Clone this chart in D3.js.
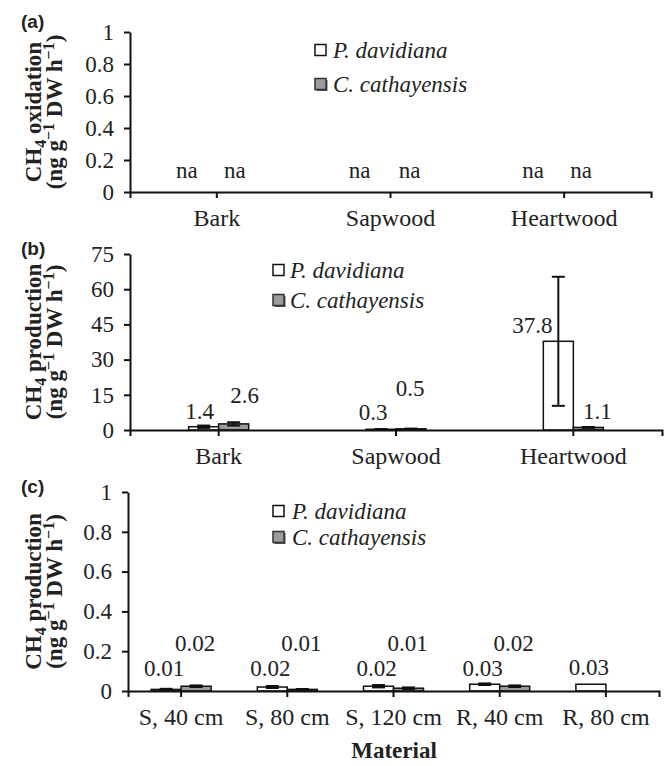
<!DOCTYPE html>
<html>
<head>
<meta charset="utf-8">
<script src="https://cdn.jsdelivr.net/npm/d3@7"></script>
<style>
    body { margin: 0; background: #fff; }
    svg { display: block; }
    .axisG path, .axisG line { stroke: #111; stroke-width: 2; }
    .axisG .tick text { font-family: 'Liberation Serif', serif; font-size: 23px; fill: #222; }
    .xAxisG .tick text { font-size: 24px; }
    .valText { font-family: 'Liberation Serif', serif; font-size: 23px; fill: #222; }
    .legText { font-family: 'Liberation Serif', serif; font-size: 23px; font-style: italic; fill: #222; }
    .titleText { font-family: 'Liberation Serif', serif; font-size: 23px; font-weight: bold; fill: #222; }
    .panelText { font-family: 'Liberation Sans', Arial, sans-serif; font-size: 19px; font-weight: bold; fill: #222; }
</style>
</head>
<body>
<div id="chart"></div>
<script>
'use strict';

// Data
const species = ['P. davidiana', 'C. cathayensis'];

// (a) CH4 oxidation, not available
const tissues = ['Bark', 'Sapwood', 'Heartwood'];
const oxidationP = [null, null, null];
const oxidationC = [null, null, null];

// (b) CH4 production by tissue
const productionP = [1.4, 0.3, 37.8];
const productionC = [2.6, 0.5, 1.1];
const productionPErr = [0.5, 0.1, 27.5];
const productionCErr = [0.7, 0.1, 0.2];

// (c) CH4 production by height
const materials = ['S, 40 cm', 'S, 80 cm', 'S, 120 cm', 'R, 40 cm', 'R, 80 cm'];
const materialP = [0.008, 0.02, 0.024, 0.034, 0.034];
const materialC = [0.024, 0.008, 0.014, 0.024, null];
const materialPErr = [0.003, 0.005, 0.006, 0.004, 0];
const materialCErr = [0.004, 0.002, 0.004, 0.004, null];

// Tick labels
const ticksUnit = [0, 0.2, 0.4, 0.6, 0.8, 1];
const ticksProd = [0, 15, 30, 45, 60, 75];

const fills = ['#ffffff', '#9c9c9c'];

/*
BarPanel
 */
class BarPanel {

    barW = 30;
    capW = 13;

    constructor(_svg, _cfg) {
        this.svg = _svg;
        this.cfg = _cfg;
        this.init();
    }

    /*
    1. Init
     */
    init() {
        const vis = this;
        const c = vis.cfg;

        vis.g = vis.svg.append('g').attr('class', 'panel');

        vis.xScale = d3.scaleBand()
            .domain(c.categories)
            .range([c.left, c.right]);
        vis.yScale = d3.scaleLinear()
            .domain([0, d3.max(c.ticks)])
            .range([c.bottom, c.top])
            .clamp(true);

        vis.barG = vis.g.append('g').attr('class', 'barG');
        vis.errG = vis.g.append('g').attr('class', 'errG');
        vis.xAxisG = vis.g.append('g')
            .attr('class', 'axisG xAxisG')
            .attr('transform', `translate(0, ${c.bottom})`);
        vis.yAxisG = vis.g.append('g')
            .attr('class', 'axisG')
            .attr('transform', `translate(${c.left}, 0)`);
        vis.labelG = vis.g.append('g').attr('class', 'labelG');

        // Panel letter
        vis.g.append('text')
            .attr('class', 'panelText')
            .attr('x', 21)
            .attr('y', c.letterY)
            .text(c.letter);

        // Y title, two rotated lines
        const midY = (c.top + c.bottom) / 2;
        const t1 = vis.g.append('text')
            .attr('class', 'titleText')
            .attr('text-anchor', 'middle')
            .attr('transform', `translate(41, ${midY}) rotate(-90)`);
        t1.append('tspan').text('CH');
        t1.append('tspan').attr('font-size', 16).attr('dy', 5).text('4');
        t1.append('tspan').attr('dy', -5).text(' ' + c.titleWord);

        const t2 = vis.g.append('text')
            .attr('class', 'titleText')
            .attr('text-anchor', 'middle')
            .attr('transform', `translate(62, ${midY}) rotate(-90)`);
        t2.append('tspan').text('(ng g');
        t2.append('tspan').attr('font-size', 16).attr('dy', -8).text('\u22121');
        t2.append('tspan').attr('dy', 8).text(' DW h');
        t2.append('tspan').attr('font-size', 16).attr('dy', -8).text('\u22121');
        t2.append('tspan').attr('dy', 8).text(')');

        // Legend
        species.forEach((sp, s) => {
            const ly = c.legendY[s];
            if (s === 1) {
                vis.g.append('rect')
                    .attr('x', c.legendX + 1.5).attr('y', ly - 4)
                    .attr('width', 11).attr('height', 11)
                    .attr('fill', '#555');
            }
            vis.g.append('rect')
                .attr('x', c.legendX).attr('y', ly - 5.5)
                .attr('width', 11).attr('height', 11)
                .attr('fill', fills[s])
                .attr('stroke', s === 0 ? '#111' : '#333')
                .attr('stroke-width', 1.5);
            vis.g.append('text')
                .attr('class', 'legText')
                .attr('x', c.legendX + c.legendGap)
                .attr('y', ly)
                .attr('dy', '0.35em')
                .text(sp);
        });

        vis.wrangle();
    }

    /*
    2. Wrangle
     */
    wrangle() {
        const vis = this;
        const c = vis.cfg;

        vis.displayData = [];
        c.series.forEach((vals, s) => {
            vals.forEach((v, i) => {
                vis.displayData.push({
                    cat: c.categories[i],
                    i: i,
                    s: s,
                    value: v,
                    err: c.errors ? c.errors[s][i] : null
                });
            });
        });

        vis.xAxis = d3.axisBottom(vis.xScale)
            .tickSizeInner(6)
            .tickSizeOuter(6)
            .tickPadding(11);
        vis.yAxis = d3.axisLeft(vis.yScale)
            .tickValues(c.ticks)
            .tickFormat(d3.format('~g'))
            .tickSizeInner(6)
            .tickSizeOuter(0)
            .tickPadding(10);

        vis.render();
    }

    /*
    3. Render
     */
    render() {
        const vis = this;
        const c = vis.cfg;
        const bw = vis.xScale.bandwidth();
        const barX = d => vis.xScale(d.cat) + bw / 2 + (d.s === 0 ? -vis.barW : 0);
        const barMid = d => barX(d) + vis.barW / 2;
        const withBar = vis.displayData.filter(d => d.value !== null);

        vis.barG.selectAll('.bar')
            .data(withBar)
            .join('rect')
            .attr('class', 'bar')
            .attr('x', barX)
            .attr('y', d => vis.yScale(d.value))
            .attr('width', vis.barW)
            .attr('height', d => vis.yScale(0) - vis.yScale(d.value))
            .attr('fill', d => fills[d.s])
            .attr('stroke', '#111')
            .attr('stroke-width', 1.5);

        const withErr = withBar.filter(d => d.err);
        vis.errG.selectAll('.errLine')
            .data(withErr)
            .join('line')
            .attr('class', 'errLine')
            .attr('x1', barMid).attr('x2', barMid)
            .attr('y1', d => vis.yScale(d.value - d.err))
            .attr('y2', d => vis.yScale(d.value + d.err))
            .attr('stroke', '#111').attr('stroke-width', 2);
        ['lo', 'hi'].forEach(k => {
            vis.errG.selectAll(`.cap-${k}`)
                .data(withErr)
                .join('line')
                .attr('class', `cap-${k}`)
                .attr('x1', d => barMid(d) - vis.capW / 2)
                .attr('x2', d => barMid(d) + vis.capW / 2)
                .attr('y1', d => vis.yScale(k === 'lo' ? d.value - d.err : d.value + d.err))
                .attr('y2', d => vis.yScale(k === 'lo' ? d.value - d.err : d.value + d.err))
                .attr('stroke', '#111').attr('stroke-width', 2);
        });

        // Data labels
        const labelled = vis.displayData.filter(d => d.value !== null || c.nullLabel);
        vis.labelG.selectAll('.valText')
            .data(labelled)
            .join('text')
            .attr('class', 'valText')
            .attr('text-anchor', 'middle')
            .attr('dy', '0.35em')
            .attr('x', d => barMid(d) + c.labelDx[d.s][d.i])
            .attr('y', d => {
                const base = c.labelBase === 'axis' || d.value === null ? vis.yScale(0) : vis.yScale(d.value);
                return base - c.labelLift[d.s][d.i];
            })
            .text(d => d.value === null ? c.nullLabel : d3.format(c.labelFmt)(d.value));

        // Axes
        vis.xAxisG.call(vis.xAxis);
        vis.yAxisG.call(vis.yAxis);
    }
}

// Build
const svg = d3.select('#chart')
    .append('svg')
    .attr('width', 672)
    .attr('height', 766);

new BarPanel(svg, {
    letter: '(a)', letterY: 28, titleWord: 'oxidation',
    categories: tissues, series: [oxidationP, oxidationC], errors: null,
    ticks: ticksUnit, labelFmt: '.1f', nullLabel: 'na',
    top: 32, bottom: 192, left: 130, right: 651,
    labelBase: 'axis',
    labelDx: [[-15, -16, -16], [3, 4, 2]],
    labelLift: [[22, 22, 22], [22, 22, 22]],
    legendX: 315, legendY: [50, 84], legendGap: 18
});

new BarPanel(svg, {
    letter: '(b)', letterY: 255, titleWord: 'production',
    categories: tissues, series: [productionP, productionC], errors: [productionPErr, productionCErr],
    ticks: ticksProd, labelFmt: '.1f', nullLabel: null,
    top: 254, bottom: 430, left: 130, right: 662,
    labelBase: 'bar',
    labelDx: [[-4, -8, -26], [11, -1, 9]],
    labelLift: [[16, 17, 16], [29, 41, 16]],
    legendX: 273, legendY: [270, 300], legendGap: 17
});

new BarPanel(svg, {
    letter: '(c)', letterY: 493, titleWord: 'production',
    categories: materials, series: [materialP, materialC], errors: [materialPErr, materialCErr],
    ticks: ticksUnit, labelFmt: '.2f', nullLabel: null,
    top: 492, bottom: 691, left: 128, right: 659,
    labelBase: 'axis',
    labelDx: [[-2, -2, -2, -2, -2], [-1, -1, -1, -1, -1]],
    labelLift: [[23, 23, 23, 23, 24], [48, 48, 48, 48, 48]],
    legendX: 273, legendY: [511, 537], legendGap: 19
});

// X title
svg.append('text')
    .attr('class', 'titleText')
    .attr('text-anchor', 'middle')
    .attr('x', 394)
    .attr('y', 758)
    .text('Material');
</script>
</body>
</html>
